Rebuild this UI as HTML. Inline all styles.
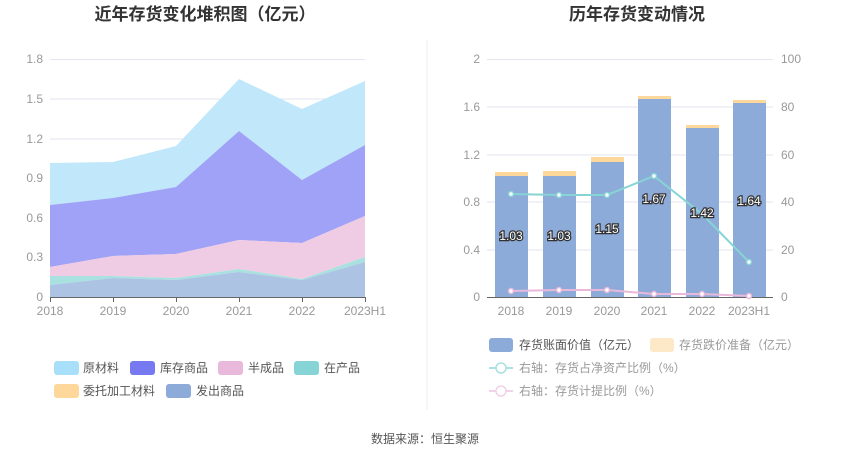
<!DOCTYPE html>
<html><head><meta charset="utf-8"><style>
body{margin:0;width:850px;height:459px;background:#fff;overflow:hidden;font-family:"Liberation Sans","Noto Sans CJK SC",sans-serif}
svg text{font-family:"Liberation Sans","Noto Sans CJK SC",sans-serif}
</style></head><body>
<svg width="850" height="459" viewBox="0 0 850 459" xmlns="http://www.w3.org/2000/svg">
<text x="205" y="20" text-anchor="middle" font-size="17" font-weight="bold" fill="#333">近年存货变化堆积图（亿元）</text>
<text x="637" y="20" text-anchor="middle" font-size="17" font-weight="bold" fill="#333">历年存货变动情况</text>
<line x1="427" y1="40" x2="427" y2="410" stroke="#eee"/>
<!-- left grid -->
<g stroke="#e3e6ef" stroke-width="1">
<line x1="50" y1="59.5" x2="365" y2="59.5"/><line x1="50" y1="99" x2="365" y2="99"/><line x1="50" y1="139" x2="365" y2="139"/><line x1="50" y1="178" x2="365" y2="178"/><line x1="50" y1="218" x2="365" y2="218"/><line x1="50" y1="257" x2="365" y2="257"/>
</g>
<g font-size="12" fill="#999" text-anchor="end">
<text x="43" y="63">1.8</text><text x="43" y="103">1.5</text><text x="43" y="143">1.2</text><text x="43" y="182">0.9</text><text x="43" y="222">0.6</text><text x="43" y="261">0.3</text><text x="43" y="301">0</text>
</g>
<polygon fill="#c1e7fa" points="50,163 113,162 176,146 239,79 302,109 365,81 365,145 302,180 239,131 176,187 113,198 50,205"/>
<polygon fill="#a0a2f7" points="50,205 113,198 176,187 239,131 302,180 365,145 365,216 302,243 239,240 176,254 113,256 50,267"/>
<polygon fill="#efcce3" points="50,267 113,256 176,254 239,240 302,243 365,216 365,257 302,279 239,269 176,278 113,276 50,276"/>
<polygon fill="#a9e0e0" points="50,276 113,276 176,278 239,269 302,279 365,257 365,262 302,280 239,272 176,280 113,278 50,285"/>
<polygon fill="#adc3e3" points="50,285 113,278 176,280 239,272 302,280 365,262 365,297 50,297"/>
<line x1="50" y1="297.5" x2="365" y2="297.5" stroke="#666"/>
<g stroke="#666"><line x1="50.5" y1="297" x2="50.5" y2="302"/><line x1="113.5" y1="297" x2="113.5" y2="302"/><line x1="176.5" y1="297" x2="176.5" y2="302"/><line x1="239.5" y1="297" x2="239.5" y2="302"/><line x1="302.5" y1="297" x2="302.5" y2="302"/><line x1="365.5" y1="297" x2="365.5" y2="302"/></g>
<g font-size="12" fill="#999" text-anchor="middle">
<text x="50" y="315">2018</text><text x="113" y="315">2019</text><text x="176" y="315">2020</text><text x="239" y="315">2021</text><text x="302" y="315">2022</text><text x="365" y="315">2023H1</text>
</g>
<!-- left legend -->
<g font-size="12" fill="#555">
<rect x="54" y="361" width="25" height="14" rx="3" fill="#a8e0fa"/><text x="83" y="372">原材料</text>
<rect x="130" y="361" width="25" height="14" rx="3" fill="#7679f0"/><text x="160" y="372">库存商品</text>
<rect x="218" y="361" width="25" height="14" rx="3" fill="#e8b9da"/><text x="248" y="372">半成品</text>
<rect x="294" y="361" width="25" height="14" rx="3" fill="#86d4d6"/><text x="324" y="372">在产品</text>
<rect x="54" y="384" width="25" height="14" rx="3" fill="#fdd89a"/><text x="83" y="395">委托加工材料</text>
<rect x="166" y="384" width="25" height="14" rx="3" fill="#8dabd9"/><text x="196" y="395">发出商品</text>
</g>
<!-- right chart -->
<g stroke="#e3e6ef">
<line x1="487" y1="59.5" x2="773" y2="59.5"/><line x1="487" y1="107" x2="773" y2="107"/><line x1="487" y1="155" x2="773" y2="155"/><line x1="487" y1="202" x2="773" y2="202"/><line x1="487" y1="250" x2="773" y2="250"/>
</g>
<g font-size="12" fill="#999" text-anchor="end">
<text x="480" y="63">2</text><text x="480" y="111">1.6</text><text x="480" y="159">1.2</text><text x="480" y="206">0.8</text><text x="480" y="254">0.4</text><text x="480" y="301">0</text>
</g>
<g font-size="12" fill="#999" text-anchor="start">
<text x="781" y="63">100</text><text x="781" y="111">80</text><text x="781" y="159">60</text><text x="781" y="206">40</text><text x="781" y="254">20</text><text x="781" y="301">0</text>
</g>
<g fill="#fdd89a">
<rect x="495" y="172" width="33" height="4"/><rect x="543" y="171" width="33" height="5"/><rect x="591" y="157" width="33" height="5"/><rect x="638" y="96" width="33" height="3"/><rect x="686" y="125" width="33" height="3"/><rect x="733" y="100" width="33" height="3"/>
</g>
<g fill="#8dabd9">
<rect x="495" y="176" width="33" height="121"/><rect x="543" y="176" width="33" height="121"/><rect x="591" y="162" width="33" height="135"/><rect x="638" y="99" width="33" height="198"/><rect x="686" y="128" width="33" height="169"/><rect x="733" y="103" width="33" height="194"/>
</g>
<line x1="487" y1="297.5" x2="773" y2="297.5" stroke="#666"/>
<polyline fill="none" stroke="#86d4d6" stroke-width="2" points="511,194 559,195 607,195 654,176 702,214 749,262"/>
<polyline fill="none" stroke="#e8b9da" stroke-width="2" points="511,291 559,290 607,290 654,294 702,294 749,296"/>
<g fill="#fff" stroke="#86d4d6" stroke-width="1.5"><circle cx="511" cy="194" r="2.5"/><circle cx="559" cy="195" r="2.5"/><circle cx="607" cy="195" r="2.5"/><circle cx="654" cy="176" r="2.5"/><circle cx="702" cy="214" r="2.5"/><circle cx="749" cy="262" r="2.5"/></g>
<g fill="#fff" stroke="#e8b9da" stroke-width="1.5"><circle cx="511" cy="291" r="2.5"/><circle cx="559" cy="290" r="2.5"/><circle cx="607" cy="290" r="2.5"/><circle cx="654" cy="294" r="2.5"/><circle cx="702" cy="294" r="2.5"/><circle cx="749" cy="296" r="2.5"/></g>
<g font-size="12" text-anchor="middle" fill="#fff" stroke="#333" stroke-width="2.5" paint-order="stroke">
<text x="511" y="240">1.03</text><text x="559" y="240">1.03</text><text x="607" y="233">1.15</text><text x="654" y="203">1.67</text><text x="702" y="217">1.42</text><text x="749" y="205">1.64</text>
</g>
<g font-size="12" fill="#999" text-anchor="middle">
<text x="511" y="315">2018</text><text x="559" y="315">2019</text><text x="607" y="315">2020</text><text x="654" y="315">2021</text><text x="702" y="315">2022</text><text x="749" y="315">2023H1</text>
</g>
<!-- right legend -->
<g font-size="12">
<rect x="489" y="338" width="24" height="14" rx="3" fill="#8dabd9"/><text x="519" y="349" fill="#555">存货账面价值（亿元）</text>
<rect x="650" y="338" width="24" height="14" rx="3" fill="#fde8c8"/><text x="679" y="349" fill="#999">存货跌价准备（亿元）</text>
<line x1="489" y1="368" x2="513" y2="368" stroke="#a9e0e0" stroke-width="2"/><circle cx="501" cy="368" r="5" fill="#fff" stroke="#a9e0e0" stroke-width="1.5"/><text x="519" y="372" fill="#999">右轴：存货占净资产比例（%）</text>
<line x1="489" y1="391" x2="513" y2="391" stroke="#f2d2e8" stroke-width="2"/><circle cx="501" cy="391" r="5" fill="#fff" stroke="#f2d2e8" stroke-width="1.5"/><text x="519" y="395" fill="#999">右轴：存货计提比例（%）</text>
</g>
<text x="425" y="443" text-anchor="middle" font-size="12" fill="#555">数据来源：恒生聚源</text>
</svg>
</body></html>
